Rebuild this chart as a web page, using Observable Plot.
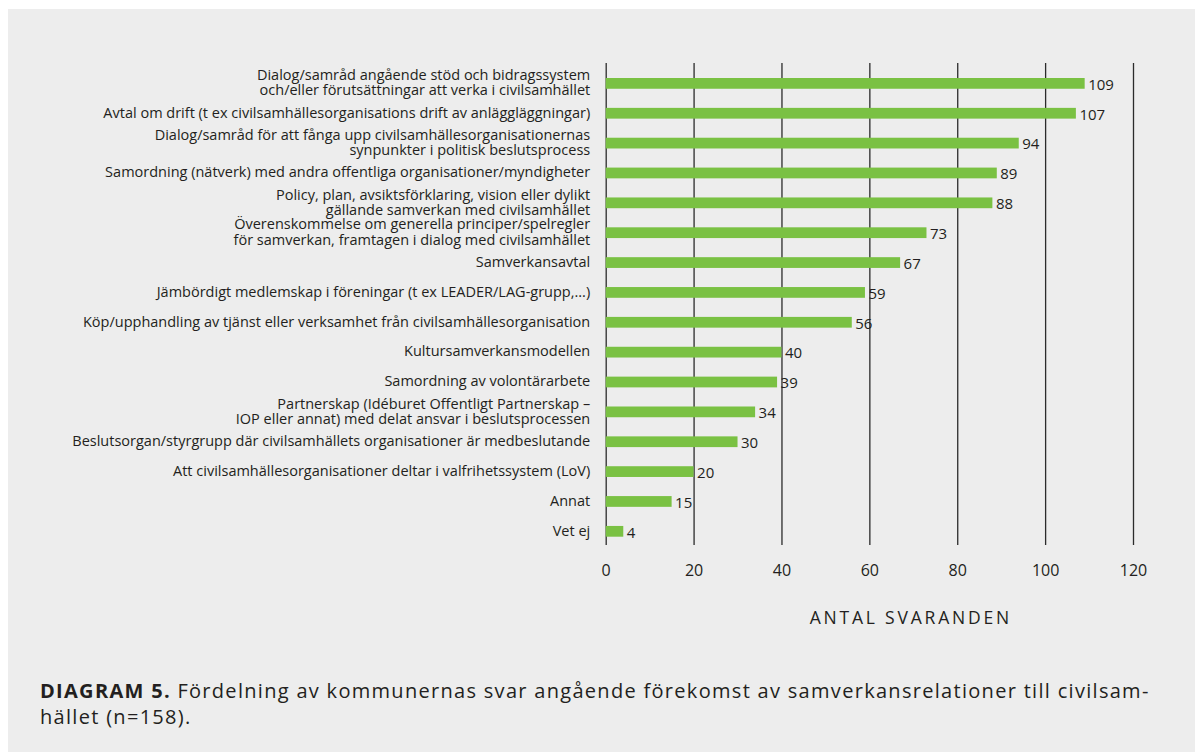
<!DOCTYPE html>
<html>
<head>
<meta charset="utf-8">
<script src="https://cdn.jsdelivr.net/npm/d3@7"></script>
<script src="https://cdn.jsdelivr.net/npm/@observablehq/plot@0.6"></script>
<style>
  html, body { margin: 0; padding: 0; background: #ffffff; width: 1195px; height: 752px; overflow: hidden; }
  #panel { position: absolute; left: 8px; top: 9px; right: 0; bottom: 0; background: #ededed; }
  #chart { position: absolute; left: 0; top: 0; }
  #caption { position: absolute; left: 40px; top: 678px; width: 1150px; font-family: "Open Sans", sans-serif; font-size: 20px; letter-spacing: 1.3px; line-height: 26px; color: #231f20; white-space: nowrap; }
  #caption b { font-weight: 700; }
</style>
</head>
<body>
<div id="panel"></div>
<div id="chart"></div>
<div id="caption"><b>DIAGRAM 5.</b> Fördelning av kommunernas svar angående förekomst av samverkansrelationer till civilsam-<br>hället (n=158).</div>
<script>
const categories = [
  "Dialog/samråd angående stöd och bidragssystem\noch/eller förutsättningar att verka i civilsamhället",
  "Avtal om drift (t ex civilsamhällesorganisations drift av anläggläggningar)",
  "Dialog/samråd för att fånga upp civilsamhällesorganisationernas\nsynpunkter i politisk beslutsprocess",
  "Samordning (nätverk) med andra offentliga organisationer/myndigheter",
  "Policy, plan, avsiktsförklaring, vision eller dylikt\ngällande samverkan med civilsamhället",
  "Överenskommelse om generella principer/spelregler\nför samverkan, framtagen i dialog med civilsamhället",
  "Samverkansavtal",
  "Jämbördigt medlemskap i föreningar (t ex LEADER/LAG-grupp,...)",
  "Köp/upphandling av tjänst eller verksamhet från civilsamhällesorganisation",
  "Kultursamverkansmodellen",
  "Samordning av volontärarbete",
  "Partnerskap (Idéburet Offentligt Partnerskap –\nIOP eller annat) med delat ansvar i beslutsprocessen",
  "Beslutsorgan/styrgrupp där civilsamhällets organisationer är medbeslutande",
  "Att civilsamhällesorganisationer deltar i valfrihetssystem (LoV)",
  "Annat",
  "Vet ej"
];
const values = [109, 107, 94, 89, 88, 73, 67, 59, 56, 40, 39, 34, 30, 20, 15, 4];
const xTicks = [0, 20, 40, 60, 80, 100, 120];
const axisTitle = "ANTAL SVARANDEN";

const data = categories.map((c, i) => ({label: c, value: values[i]}));

const W = 1195, H = 640;
const x0 = 605.7, x1 = 1133;
const frameTop = 63, frameBottom = 545;
const ink = "#231f20";

const chart = Plot.plot({
  width: W,
  height: H,
  marginLeft: x0,
  marginRight: W - x1,
  marginTop: frameTop,
  marginBottom: H - frameBottom,
  style: {background: "transparent", fontFamily: "'Open Sans', sans-serif", color: ink},
  x: {domain: [0, 120], range: [x0, x1], axis: null},
  y: {domain: categories, range: [72.03, 542.67], paddingInner: 0.64, paddingOuter: 0.2, round: false, axis: null},
  marks: [
    Plot.ruleX(xTicks, {stroke: "#2b2b2b", strokeWidth: 1.3}),
    Plot.barX(data, {x: "value", y: "label", fill: "#7ac143"}),
    Plot.text(data, {x: "value", y: "label", text: d => String(d.value), textAnchor: "start", dx: 3, dy: 1, fontSize: 15, fill: ink}),
    Plot.text(data, {x: 0, y: "label", text: "label", textAnchor: "end", dx: -16, dy: -1, fontSize: 14.5, lineHeight: 1.04, fill: ink}),
    Plot.axisX(xTicks, {tickSize: 0, tickPadding: 19, fontSize: 16, label: null, tickFormat: d => String(d), fill: ink}),
    Plot.text([axisTitle], {frameAnchor: "bottom", dx: 41, dy: 78, fontSize: 17.5, fill: ink, text: d => d})
  ]
});

d3.select(chart).selectAll("text").filter(function() { return this.textContent === axisTitle; })
  .style("letter-spacing", "2.8px");

document.getElementById("chart").appendChild(chart);
</script>
</body>
</html>
